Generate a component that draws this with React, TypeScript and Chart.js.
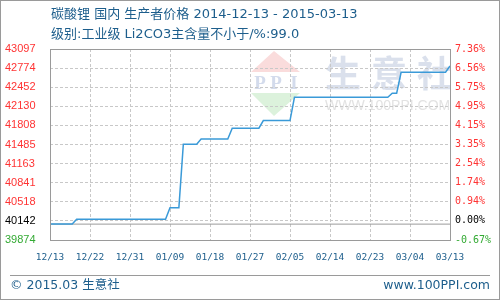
import React, { useEffect, useRef } from "react";
import { Chart, registerables } from "chart.js";

Chart.register(...registerables);

// ---- data ----
const TITLE_LINE_1 = "碳酸锂 国内 生产者价格 2014-12-13 - 2015-03-13";
const TITLE_LINE_2 = "级别:工业级 Li2CO3主含量不小于/%:99.0";
const FOOTER_LEFT = "© 2015.03 生意社";
const FOOTER_RIGHT = "www.100PPI.com";

// x labels every 9 days from 2014-12-13 (day 0) to 2015-03-13 (day 90)
const X_LABELS = ["12/13", "12/22", "12/31", "01/09", "01/18", "01/27", "02/05", "02/14", "02/23", "03/04", "03/13"];
const X_STEP_DAYS = 9;

// price breakpoints (day index, price)
const DAYS = [0, 5, 6, 26, 27, 29, 30, 33, 34, 40, 41, 47, 48, 54, 55, 76, 77, 78, 79, 89, 90];
const PRICES = [40142, 40142, 40223, 40223, 40420, 40420, 41490, 41490, 41578, 41578, 41760, 41760, 41890, 41890, 42282, 42282, 42350, 42350, 42704, 42704, 42810];

const BASE_PRICE = 40142;
const Y_MIN = 39874;
const Y_MAX = 43097;
// tick labels bottom -> top
const LEFT_LABELS = ["39874", "40142", "40518", "40841", "41163", "41485", "41808", "42130", "42452", "42774", "43097"];
const RIGHT_LABELS = ["-0.67%", "0.00%", "0.94%", "1.74%", "2.54%", "3.35%", "4.15%", "4.95%", "5.75%", "6.56%", "7.36%"];

const TEXT_BLUE = "#1d5e8c";
const RED = "#ff3333";
const GREEN = "#33aa33";
const LINE_BLUE = "#3a9ad8";
const GRID = "#c8c8c8";
const BORDER = "#9a9a9a";
const MIXED_FONT = "'DejaVu Sans', 'Noto Sans CJK SC'";

const tickColor = (i: number) => (i === 0 ? GREEN : i === 1 ? "#000000" : RED);

const evenTicks = (scale: any) => {
  const n = LEFT_LABELS.length;
  scale.ticks = LEFT_LABELS.map((_, i) => ({ value: Y_MIN + (i * (Y_MAX - Y_MIN)) / (n - 1) }));
};

const watermarkPlugin = {
  id: "watermark",
  beforeDraw(chart: any) {
    const { ctx, chartArea: a } = chart;
    ctx.save();
    ctx.beginPath();
    ctx.rect(a.left, a.top, a.right - a.left, a.bottom - a.top);
    ctx.clip();
    // logo triangles
    ctx.fillStyle = "#fadcdc";
    ctx.beginPath();
    ctx.moveTo(274, 51);
    ctx.lineTo(300, 72);
    ctx.lineTo(251, 72);
    ctx.closePath();
    ctx.fill();
    ctx.fillStyle = "#dcf2dc";
    ctx.beginPath();
    ctx.moveTo(251, 93);
    ctx.lineTo(300, 93);
    ctx.lineTo(274, 116);
    ctx.closePath();
    ctx.fill();
    ctx.fillStyle = "#d3dbec";
    ctx.font = "bold 19px 'Liberation Serif'";
    ctx.textAlign = "center";
    ctx.textBaseline = "middle";
    ctx.fillText("P", 260, 84);
    ctx.fillText("P", 276, 84);
    ctx.fillText("I", 294, 84);
    // big characters
    ctx.fillStyle = "#dae0ec";
    ctx.font = "bold 36px 'Noto Sans CJK SC'";
    ["生", "意", "社"].forEach((c, i) => ctx.fillText(c, 343 + i * 46, 73));
    ctx.fillStyle = "#e2e2e2";
    ctx.font = "14px 'Liberation Sans'";
    ctx.textAlign = "left";
    ctx.fillText("WWW.100PPI.COM", 325, 106);
    ctx.restore();
  },
};

const framePlugin = {
  id: "frame",
  afterDraw(chart: any) {
    const { ctx, chartArea: a } = chart;
    ctx.save();
    ctx.strokeStyle = BORDER;
    ctx.lineWidth = 1;
    ctx.setLineDash([]);
    ctx.strokeRect(Math.round(a.left) + 0.5, Math.round(a.top) + 0.5, Math.round(a.right - a.left), Math.round(a.bottom - a.top));
    // outer border
    ctx.strokeRect(0.5, 0.5, 499, 299);
    // footer separator
    ctx.beginPath();
    ctx.moveTo(10, 275.5);
    ctx.lineTo(490, 275.5);
    ctx.stroke();
    // titles
    ctx.fillStyle = TEXT_BLUE;
    ctx.textBaseline = "middle";
    ctx.textAlign = "left";
    ctx.font = "13px " + MIXED_FONT;
    ctx.fillText(TITLE_LINE_1, 51, 15);
    ctx.fillText(TITLE_LINE_2, 51, 34.5);
    ctx.font = "12.5px " + MIXED_FONT;
    ctx.fillText(FOOTER_LEFT, 10, 286);
    ctx.textAlign = "right";
    ctx.font = "12.5px 'DejaVu Sans'";
    ctx.fillText(FOOTER_RIGHT, 490, 286);
    ctx.restore();
  },
};

export default function App() {
  const ref = useRef<HTMLCanvasElement | null>(null);

  useEffect(() => {
    if (!ref.current) return;
    const chart = new Chart(ref.current, {
      type: "line",
      data: {
        datasets: [
          {
            data: DAYS.map((d, i) => ({ x: d, y: PRICES[i] })),
            borderColor: LINE_BLUE,
            borderWidth: 1.5,
            pointRadius: 0,
            tension: 0,
            fill: false,
            yAxisID: "y",
            order: 0,
          },
          {
            data: [
              { x: 0, y: BASE_PRICE },
              { x: (X_LABELS.length - 1) * X_STEP_DAYS, y: BASE_PRICE },
            ],
            borderColor: BORDER,
            borderWidth: 1,
            pointRadius: 0,
            fill: false,
            yAxisID: "y",
            order: 1,
          },
        ],
      },
      options: {
        responsive: false,
        animation: false,
        devicePixelRatio: 1,
        events: [],
        layout: { padding: { top: 49, left: 5, right: 0, bottom: 0 } },
        plugins: { legend: { display: false }, tooltip: { enabled: false }, title: { display: false } },
        scales: {
          x: {
            type: "linear",
            min: 0,
            max: (X_LABELS.length - 1) * X_STEP_DAYS,
            afterBuildTicks: (scale: any) => {
              scale.ticks = X_LABELS.map((_, i) => ({ value: i * X_STEP_DAYS }));
            },
            afterFit: (scale: any) => {
              scale.height = 60;
            },
            grid: { color: GRID, lineWidth: 1, drawTicks: false },
            border: { display: false, dash: [3, 2] },
            ticks: {
              autoSkip: false,
              maxRotation: 0,
              minRotation: 0,
              padding: 12,
              color: TEXT_BLUE,
              font: { family: "'DejaVu Sans Mono'", size: 9.5 },
              callback: (v: any) => X_LABELS[Math.round(Number(v) / X_STEP_DAYS)] ?? "",
            },
          },
          y: {
            type: "linear",
            position: "left",
            min: Y_MIN,
            max: Y_MAX,
            afterBuildTicks: evenTicks,
            afterFit: (scale: any) => {
              scale.width = 45;
            },
            grid: { color: GRID, lineWidth: 1, drawTicks: false },
            border: { display: false, dash: [3, 2] },
            ticks: {
              crossAlign: "far",
              padding: 5,
              color: (c: any) => tickColor(c.index),
              font: { family: "'Liberation Sans'", size: 11 },
              callback: (_v: any, i: number) => LEFT_LABELS[i],
            },
          },
          y1: {
            type: "linear",
            position: "right",
            min: Y_MIN,
            max: Y_MAX,
            afterBuildTicks: evenTicks,
            afterFit: (scale: any) => {
              scale.width = 50;
            },
            grid: { display: false, drawTicks: false },
            border: { display: false },
            ticks: {
              padding: 5,
              color: (c: any) => tickColor(c.index),
              font: { family: "'DejaVu Sans Mono'", size: 10 },
              callback: (_v: any, i: number) => RIGHT_LABELS[i],
            },
          },
        },
      },
      plugins: [watermarkPlugin, framePlugin],
    } as any);
    return () => chart.destroy();
  }, []);

  return (
    <canvas
      ref={ref}
      width={500}
      height={300}
      style={{ position: "absolute", left: 0, top: 0, width: 500, height: 300, background: "#fff" }}
    />
  );
}
